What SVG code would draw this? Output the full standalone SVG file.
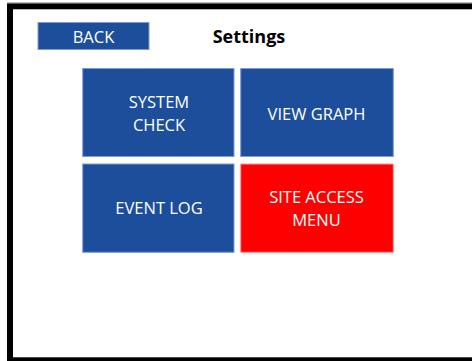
<svg xmlns="http://www.w3.org/2000/svg" width="472" height="361" viewBox="0 0 472 361">
<style>
.btn{fill:#1D4E9C;stroke:#7F9BD0;stroke-width:1}
.red{fill:#FF0000;stroke:#FF9A9A;stroke-width:1}
.lbl{font-family:"Open Sans","Liberation Sans",sans-serif;font-size:16.5px;fill:#FFFFFF;text-anchor:middle}
.title{font-family:"Open Sans","Liberation Sans",sans-serif;font-size:18px;font-weight:bold;fill:#000000;text-anchor:middle}
</style>
<rect width="472" height="361" fill="#FFFFFF"/>
<rect x="10" y="6.3" width="480" height="354" fill="none" stroke="#000000" stroke-width="6"/>
<line x1="7" y1="2.8" x2="472" y2="2.8" stroke="#9A9A9A" stroke-width="1"/>
<g id="back">
<rect class="btn" x="38" y="22.5" width="111" height="27"/>
<text class="lbl" x="93.5" y="43">BACK</text>
</g>
<g id="title">
<text class="title" x="249" y="43">Settings</text>
</g>
<g id="system-check">
<rect class="btn" x="82.7" y="68.5" width="151.3" height="88"/>
<text class="lbl" x="159" y="108.3">SYSTEM</text>
<text class="lbl" x="159" y="131">CHECK</text>
</g>
<g id="view-graph">
<rect class="btn" x="240.7" y="68.5" width="152.6" height="88"/>
<text class="lbl" x="316.5" y="120">VIEW GRAPH</text>
</g>
<g id="event-log">
<rect class="btn" x="82.7" y="164" width="151.3" height="88.3"/>
<text class="lbl" x="159" y="214.3">EVENT LOG</text>
</g>
<g id="site-access-menu">
<rect class="red" x="240.7" y="164" width="152.6" height="88.3"/>
<text class="lbl" x="316.5" y="202.7">SITE ACCESS</text>
<text class="lbl" x="316.5" y="225.7">MENU</text>
</g>
<g id="connectors"></g>
</svg>
